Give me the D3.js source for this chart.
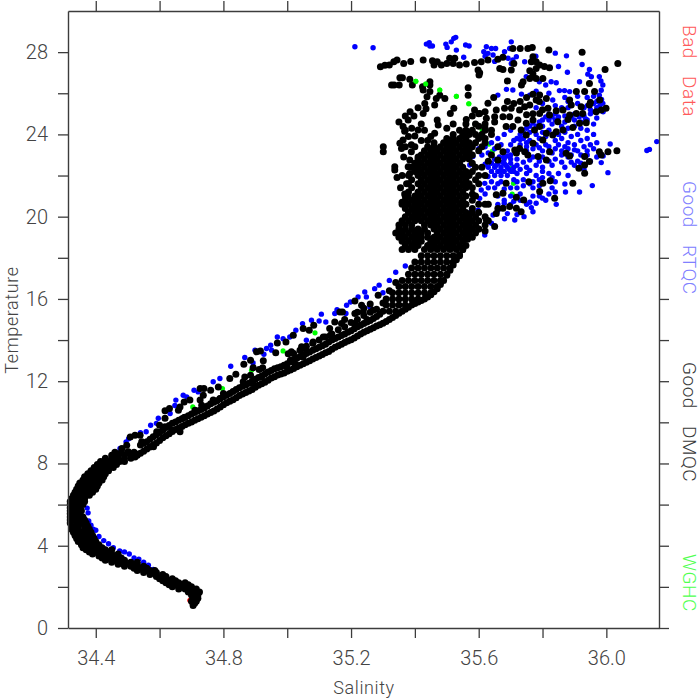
<!DOCTYPE html>
<html><head><meta charset="utf-8">
<script src="https://cdn.jsdelivr.net/npm/d3@7"></script>
<style>html,body{margin:0;padding:0;background:#fff}svg{display:block}
text{font-family:Roboto,"Liberation Sans",sans-serif;font-weight:300}</style></head>
<body><svg id="c" width="700" height="700"></svg>
<script>
const xMajor=[34.4,34.8,35.2,35.6,36.0];
const xTicks=[34.4,34.6,34.8,35.0,35.2,35.4,35.6,35.8,36.0];
const yMajor=[0,4,8,12,16,20,24,28];
const yTicks=[0,2,4,6,8,10,12,14,16,18,20,22,24,26,28];
const legendLabels=["Bad Data","Good RTQC","Good DMQC","WGHC"];
const legendColors=["#ff5a5a","#8080ff","#3a3a3a","#50ff50"];

const badData=[[34.695,1.35],[34.62,2.3],[34.70,1.25]];
const wghc=[[34.704,10.75],[34.797,11.64],[34.888,12.53],[34.987,13.47],[35.087,14.35],[35.403,26.58],[35.434,26.45],[35.478,26.16],[35.53,25.85],[35.569,25.49],[35.611,24.21],[35.632,23.53],[35.643,23.19],[35.709,21.62],[35.705,21.1],[35.702,22.35]];

const rtqcLower=[[34.373,5.83],[34.376,5.6],[34.378,5.2],[34.385,5.0],[34.392,4.8],[34.40,4.75],[34.41,4.45],[34.425,4.25],[34.44,4.1],[34.455,3.9],[34.475,3.75],[34.49,3.7],[34.505,3.6],[34.52,3.4],[34.535,3.35],[34.55,3.2],[34.565,3.05],[34.58,2.85],
[34.476,8.73],[34.468,8.4],[34.495,9.05],[34.503,9.2],[34.54,9.5],[34.558,9.54],[34.572,9.86],[34.596,10.2],[34.59,9.95],[34.633,10.43],[34.651,11.08],[34.648,10.82],[34.674,11.32],[34.685,11.24],[34.708,11.56],[34.721,11.48],[34.768,11.97],[34.789,12.13],[34.823,12.73],[34.867,13.15],[34.893,12.89],[34.899,13.51],[34.927,13.31],[34.935,13.59],[34.951,13.51],[34.969,14.15],[34.948,13.75],[34.987,14.07],[35.008,14.15],[35.027,14.48],[35.048,14.8],[35.06,13.99],[35.076,14.96],[35.1,14.93],[35.107,15.26],[35.121,14.88],[35.149,15.29],[35.156,15.48],[35.184,15.29],[35.186,15.69],[35.198,15.85],[35.222,16.1],[35.243,16.34],[35.248,16.1],[35.274,16.5],[35.259,15.61],[35.288,16.67],[35.30,16.3],[35.32,16.9],[35.34,17.3],[35.37,17.6]];
const rtqcTop=[[35.212,28.26],[35.269,28.21],[35.436,28.39],[35.447,28.3],[35.455,28.3],[35.445,28.46],[35.497,28.39],[35.501,28.23],[35.514,28.5],[35.528,28.72],[35.522,28.67],[35.53,28.1],[35.559,28.35],[35.57,28.3],[35.553,27.75],[35.624,28.26],[35.64,28.18],[35.653,28.18],[35.616,28.02],[35.629,27.94],[35.645,27.86],[35.65,27.55],[35.62,27.8],[35.702,28.5],[35.697,28.18],[35.681,28.02],[35.676,27.78],[35.692,27.7],[35.707,27.62],[35.718,27.78],[35.702,27.45],[35.744,27.53],[35.779,27.8],[35.84,27.95],[35.875,27.82],[35.85,27.3],[35.878,27.02],[35.924,27.4],[35.947,27.16],[35.942,26.93],[35.953,26.8],[35.916,26.56],[35.978,26.81],[35.983,26.6],[35.989,26.4],[35.984,26.15],[35.978,25.9],[35.989,25.51],[35.843,26.51],[35.827,26.56],[35.81,26.4],[35.853,26.13],[35.869,26.13],[35.885,26.08],[35.832,25.67],[35.749,26.81],[35.79,26.56],[35.687,26.19],[35.707,26.16],[35.66,25.91],[35.734,25.96],[35.76,25.91],[35.78,26.1],[35.82,26.0],[35.87,25.8],[35.91,25.85],[35.94,25.8]];
const rtqcBlue=[[35.66,22.8],[35.68,22.8],[35.70,22.8],[35.64,22.6],[35.66,22.6],[35.68,22.6],[35.70,22.6],[35.63,22.4],[35.65,22.4],[35.67,22.4],[35.69,22.4],[35.71,22.4],[35.64,22.2],[35.66,22.2],[35.68,22.2],[35.70,22.2],[35.65,22.0],[35.67,22.0],[35.69,22.0],
[35.95,25.6],[35.96,25.5],[35.97,25.6],[35.98,25.4],[35.86,25.3],[35.88,25.3],[35.93,25.3],[35.95,25.2],[35.97,25.3],[35.99,25.1],[35.82,25.0],[35.84,25.0],[35.90,25.0],[35.93,24.9],[35.95,25.0],[35.97,24.8],[35.80,24.7],[35.82,24.7],[35.84,24.7],[35.87,24.6],[35.90,24.7],[35.92,24.6],[35.94,24.7],[35.96,24.5],[35.76,24.4],[35.78,24.4],[35.80,24.4],[35.83,24.5],[35.86,24.4],[35.88,24.3],[35.90,24.4],[35.92,24.3],[35.94,24.2],[35.74,24.1],[35.76,24.1],[35.78,24.0],[35.80,24.1],[35.82,24.2],[35.85,24.0],[35.87,24.1],[35.89,23.9],[35.91,24.0],[35.72,23.8],[35.74,23.8],[35.76,23.7],[35.79,23.8],[35.81,23.9],[35.84,23.7],[35.86,23.8],[35.88,23.6],[35.92,23.7],[35.94,23.8],[35.70,23.5],[35.73,23.5],[35.75,23.4],[35.78,23.5],[35.82,23.4],[35.85,23.5],[35.87,23.4],[35.90,23.5],[35.93,23.4],[35.69,23.2],[35.72,23.1],[35.75,23.2],[35.80,23.2],[35.83,23.1],[35.86,23.2],[35.89,23.0],[35.91,23.2],[35.96,23.3],[35.68,22.9],[35.72,22.8],[35.77,22.9],[35.80,22.9],[35.84,22.8],[35.88,22.9],[35.91,22.7],[35.94,23.0],[35.97,22.9],
[35.72,22.5],[35.75,22.4],[35.78,22.5],[35.80,22.4],[35.83,22.5],[35.87,22.4],[35.90,22.5],[35.93,22.3],[35.72,22.1],[35.75,22.1],[35.78,22.0],[35.80,22.2],[35.82,22.1],[35.85,22.1],[35.88,22.0],[35.71,21.8],[35.74,21.8],[35.77,21.7],[35.80,21.9],[35.83,21.9],[35.72,21.4],[35.74,21.5],[35.77,21.4],[35.79,21.5],[35.83,21.4],[35.87,21.59],[35.872,21.2],[35.916,21.2],[35.956,21.51],[35.70,21.0],[35.73,21.1],[35.77,21.0],[35.82,21.1],[35.84,21.2],[35.70,20.6],[35.76,20.7],[35.80,20.9],[35.843,20.6],[35.765,20.44],[35.77,20.24],[35.742,20.0],[35.713,19.84],[35.681,19.9],[35.598,20.32],[35.577,20.28],[35.603,20.89],[35.608,21.3],[35.619,21.62],[35.629,21.95],[35.645,20.08],[35.64,19.68],[35.619,19.11],[35.582,22.92],[35.572,22.51],[35.61,23.0],[35.63,23.1],[35.65,23.3],[35.67,23.5],[35.66,20.6],[35.68,20.8],[35.66,21.0],[35.65,21.4],[35.67,21.7],
[36.135,23.27],[36.127,23.22],[36.158,23.65],[36.012,23.53],[36.005,22.14],[35.984,22.63],[35.99,22.95],[35.95,23.5],[35.97,23.6],[35.96,24.0]];
const rtqcFill=[[35.78,25.3],[35.80,25.5],[35.84,25.4],[35.88,25.6],[35.91,25.5],[35.94,25.4],[35.96,25.85],[35.975,25.3],[35.985,25.7],[35.955,25.1],[35.935,24.75],[35.915,24.85],[35.89,24.85],[35.87,24.9],[35.85,24.85],[35.83,24.85],[35.81,24.85],[35.79,24.6],[35.77,24.55],[35.75,24.3],[35.73,24.0],[35.71,23.7],[35.73,23.75],[35.75,23.6],[35.77,23.3],[35.79,23.35],[35.81,23.5],[35.84,23.3],[35.86,23.0],[35.88,23.3],[35.90,23.25],[35.92,23.0],[35.94,23.2],[35.95,22.7],[35.79,22.7],[35.82,22.7],[35.86,22.65],[35.89,22.65],[35.92,22.6],[35.74,22.65],[35.76,22.75],[35.70,23.0],[35.665,22.9],[35.69,22.95],[35.62,22.55],[35.65,22.8],[35.67,22.25],[35.655,22.5],[35.685,22.5],[35.695,22.3],[35.675,22.65],[35.71,22.2],[35.73,22.3],[35.76,22.25],[35.84,21.7],[35.79,21.8],[35.76,21.6],[35.72,21.7],[35.70,21.4],[35.68,21.35],[35.66,21.6],[35.64,21.7],[35.63,21.4],[35.62,21.1],[35.66,20.3],[35.69,20.15],[35.72,20.1],[35.75,20.6],[35.78,20.65],[35.79,21.0],[35.81,20.8],[35.73,20.8],[35.71,20.75],[35.68,20.65],[35.60,23.3],[35.62,23.4],[35.64,23.6],[35.66,23.8],[35.68,24.0],[35.70,24.2]];

const dmqcScatterLow=[[34.508,9.29],[34.523,9.37],[34.539,9.37],[34.544,9.05],[34.497,8.89],[34.502,8.57],[34.523,8.32],[34.461,8.48],[34.482,8.73],[34.581,8.81],[34.617,10.56],[34.631,10.67],[34.659,10.59],[34.664,10.75],[34.677,10.99],[34.695,11.08],[34.617,10.2],[34.6,9.86],[34.617,9.78],[34.591,9.54],[34.638,9.62],[34.664,9.54],[34.677,10.23],[34.727,11.64],[34.739,11.64],[34.737,11.32],[34.727,11.08],[34.711,10.59],[34.732,10.83],[34.76,11.56],[34.768,11.08],[34.784,11.72],[34.8,11.4],[34.789,11.16],[34.82,12.13],[34.839,12.34],[34.862,11.97],[34.867,12.21],[34.885,12.29],[34.893,11.89],[34.864,12.83],[34.885,13.02],[34.893,12.66],[34.912,12.57],[34.925,12.99],[34.923,12.66],[34.92,12.21],[34.904,13.43],[34.916,13.47],[34.964,13.38],[34.969,13.86],[34.996,13.91],[35.003,13.34],[35.013,13.43],[34.998,12.73],[35.01,13.02],[35.024,12.86],[35.045,13.67],[35.055,13.59],[35.05,13.18],[35.019,14.24],[35.05,14.56],[35.069,14.48],[35.083,14.72],[35.081,13.91],[35.113,14.15],[35.133,14.56],[35.135,14.24],[35.149,14.88],[35.165,15.37],[35.173,15.37],[35.17,14.8],[35.212,15.9],[35.212,15.29],[35.212,14.8],[35.233,15.69],[35.238,15.37],[35.269,15.45],[35.285,16.18],[35.30,15.8],[35.32,16.4],[35.34,16.8],[35.25,15.0]];

const dmqcScatterHigh=[[35.292,27.29],[35.306,27.36],[35.32,27.38],[35.334,27.53],[35.344,27.62],[35.365,27.45],[35.387,27.55],[35.426,27.62],[35.455,27.58],[35.47,27.53],[35.46,27.37],[35.483,27.37],[35.50,27.45],[35.509,27.7],[35.525,27.7],[35.52,27.45],[35.54,27.37],[35.561,27.42],[35.587,27.49],[35.608,27.53],[35.629,27.62],[35.66,27.65],[35.676,27.75],[35.598,27.13],[35.601,26.89],[35.603,27.0],[35.707,28.18],[35.73,28.18],[35.754,28.18],[35.768,28.23],[35.77,27.78],[35.765,27.53],[35.78,27.53],[35.791,27.37],[35.806,27.3],[35.822,27.24],[35.78,27.2],[35.76,27.1],[35.77,26.94],[35.82,28.1],[35.924,27.99],[36.036,27.45],[35.996,27.16],[35.666,27.21],[35.676,27.16],[35.702,27.13],[35.71,27.45],[35.69,26.6],[35.739,26.56],[35.734,26.4],[35.76,26.72],[35.78,26.72],[35.801,26.72],
[35.327,26.4],[35.335,26.4],[35.351,26.4],[35.353,26.76],[35.361,26.76],[35.384,26.68],[35.392,26.4],[35.424,26.32],[35.447,26.56],[35.447,26.4],[35.426,26.16],[35.438,25.83],[35.467,25.75],[35.494,25.75],[35.478,25.9],[35.447,26.08],[35.431,25.5],[35.426,25.02],[35.462,25.43],[35.435,25.25],[35.567,26.27],[35.567,25.9],[35.522,25.27],[35.511,25.02],[35.397,24.89],[35.42,24.5],[35.41,24.21],[35.4,23.92],[35.379,24.7],[35.363,24.38],[35.368,24.15],[35.363,23.73],[35.353,23.57],[35.358,23.32],[35.301,23.4],[35.301,23.16],[35.473,24.46],[35.462,24.05],[35.561,24.73],[35.337,22.43],[35.337,22.27],[35.344,21.9],[35.389,23.5],[35.389,23.16],[35.384,22.76],[35.379,22.43],[35.384,22.1],[35.374,21.6],[35.368,21.1],[35.379,20.97],[35.47,24.7],[35.45,23.9],[35.44,23.7],
[35.713,23.24],[35.728,23.32],[35.744,23.16],[35.754,23],[35.718,23.1],[35.66,22.76],[35.676,23.16],[35.786,22.92],[35.812,22.76],[35.822,23.16],[35.874,23.08],[35.885,22.95],[35.932,22.92],[35.947,22.68],[35.932,22.51],[35.932,22.11],[35.914,22.35],[35.895,21.62],[35.978,23.16],[35.984,23],[36.005,23.16],[36.033,23.21],[35.757,21.7],[35.801,21.62],[35.824,21.75],[35.791,21.22],[35.838,20.89],[35.741,20.81],[35.718,20.94],[35.686,21.62],[35.676,21.14],[35.655,21.06],[35.733,20.24],[35.718,20.41],[35.697,20.49],[35.676,20.41],[35.655,20.16],[35.65,19.52],[35.624,19.84],
[35.791,24.38],[35.812,24.05],[35.832,23.97],[35.843,24.13],[35.864,24.21],[35.895,24.34],[35.916,24.54],[35.937,24.57],[35.848,24.62],[35.88,24.73],[35.885,24.94],[35.906,25.02],[35.926,25.02],[35.843,25.15],[35.864,25.19],[35.89,25.43],[35.921,25.35],[35.947,25.43],[35.968,25.1],[35.984,25.19],[35.999,25.27],[35.906,26.08],[35.932,26.08],[35.963,26.08],[35.947,26.48],[35.885,25.67],[35.979,25.67],[35.95,25.55],
[35.791,25.92],[35.812,25.75],[35.78,25.67],[35.76,25.43],[35.744,25.35],[35.728,25.19],[35.702,25.27],[35.681,25.27],[35.655,25.19],[35.629,25.51],[35.647,25.8],[35.587,25.19],[35.603,25.02],[35.624,24.78],[35.65,24.86],[35.676,24.86],[35.697,24.86],[35.723,24.7],[35.749,24.54],[35.77,24.7],[35.791,25.02],[35.817,25.27],[35.822,24.94],[35.77,23.57],[35.801,23.73],[35.775,24.21],[35.749,23.97],[35.733,24.21],[35.707,24.38],[35.686,24.38],[35.60,25.0],[35.58,24.9],[35.62,25.1],[35.65,24.6],[35.77,25.0],[35.75,24.95],[35.80,25.2],[35.73,25.6],[35.71,25.5],[35.69,25.6],[35.75,25.8],[35.77,25.95],[35.79,25.6],
[35.35,24.6],[35.37,24.9],[35.39,24.3],[35.38,23.9],[35.37,23.4],[35.40,23.4],[35.41,22.9],[35.40,22.3],[35.365,22.9],[35.36,22.0],[35.355,21.4],[35.36,20.7],[35.385,25.1],[35.41,25.3],[35.37,24.2],[35.42,23.7],[35.43,24.2],[35.50,24.3],[35.52,24.5],[35.60,24.4],[35.62,24.3],[35.64,24.0],[35.66,23.4],[35.64,23.0],[35.63,22.7],[35.61,22.4],[35.62,22.0],[35.60,21.6],[35.58,21.1],[35.62,20.6],[35.60,19.4],[35.62,19.3]];

const dmqcLowerRows=[[1.1,[34.705]],[1.3,[34.70,34.715]],[1.6,[34.70,34.72]],[1.9,[34.66,34.68,34.70,34.715]],[2.1,[34.63,34.65,34.67,34.69]],[2.3,[34.61,34.63,34.65]],[2.5,[34.59,34.61,34.62]],[2.7,[34.55,34.57,34.59]],[2.9,[34.52,34.54,34.56]],[3.1,[34.47,34.49,34.51,34.53]],[3.3,[34.43,34.45,34.47,34.49]],[3.5,[34.41,34.43,34.45,34.47]],[3.7,[34.38,34.40,34.42,34.44]],[3.9,[34.36,34.38,34.40,34.42]],[4.2,[34.345,34.365,34.385,34.40]],[4.5,[34.335,34.355,34.375,34.39]],[4.8,[34.325,34.345,34.365,34.38]],[5.1,[34.32,34.34,34.36,34.37]],[5.4,[34.32,34.34,34.36]],[5.7,[34.32,34.34,34.355]],[6.0,[34.32,34.34,34.36]],[6.3,[34.325,34.345,34.365]],[6.6,[34.335,34.355,34.375,34.39]],[6.9,[34.345,34.365,34.385,34.405]],[7.2,[34.36,34.38,34.40,34.42]],[7.5,[34.375,34.395,34.415,34.43]],[7.8,[34.395,34.415,34.435,34.455]],[8.1,[34.415,34.435,34.455,34.475,34.49]],[8.4,[34.45,34.47,34.49,34.51,34.53]]];
const dmqcLowerFill=[[1.2,[34.71]],[1.45,[34.705,34.72]],[1.75,[34.69,34.71,34.725]],[2.0,[34.64,34.66,34.68,34.70]],[2.2,[34.62,34.64,34.66,34.68]],[2.4,[34.60,34.62,34.64]],[2.6,[34.57,34.59,34.61]],[2.8,[34.53,34.55,34.57,34.585]],[3.0,[34.49,34.51,34.53,34.55]],[3.2,[34.45,34.47,34.49,34.51,34.53]],[3.4,[34.42,34.44,34.46,34.48]],[3.6,[34.39,34.41,34.43,34.45,34.47]],[3.8,[34.37,34.39,34.41,34.43,34.45]],[4.05,[34.355,34.375,34.395,34.41]],[4.35,[34.34,34.36,34.38,34.395]],[4.65,[34.33,34.35,34.37,34.385]],[4.95,[34.325,34.345,34.365,34.375]],[5.25,[34.32,34.335,34.35,34.365]],[5.55,[34.32,34.335,34.35]],[5.85,[34.32,34.335,34.35]],[6.15,[34.32,34.335,34.35,34.365]],[6.45,[34.33,34.35,34.37,34.38]],[6.75,[34.34,34.36,34.38,34.40]],[7.05,[34.35,34.37,34.39,34.41]],[7.35,[34.365,34.385,34.405,34.425]],[7.65,[34.385,34.405,34.425,34.44]],[7.95,[34.405,34.425,34.445,34.465]],[8.25,[34.43,34.45,34.47,34.49,34.51]],[8.55,[34.46,34.48,34.50,34.52]]];

const dmqcSpineA=[[34.53,8.45],[34.55,8.6],[34.57,8.8],[34.59,9.0],[34.61,9.25],[34.63,9.45],[34.65,9.65],[34.67,9.8],[34.69,9.95],[34.71,10.1],[34.73,10.25],[34.75,10.4],[34.77,10.55],[34.79,10.75],[34.81,10.95],[34.83,11.1],[34.85,11.3],[34.87,11.45],[34.89,11.6],[34.91,11.8],[34.93,11.95],[34.95,12.15],[34.97,12.3],[34.99,12.4],[35.01,12.55],[35.03,12.7],[35.05,12.85],[35.07,13],[35.09,13.15],[35.11,13.3],[35.13,13.45],[35.15,13.65],[35.17,13.8],[35.19,13.95],[35.21,14.1],[35.23,14.3],[35.25,14.45],[35.27,14.6],[35.29,14.75],[35.31,14.9],[35.33,15.1],[35.35,15.3],[35.37,15.5],[35.39,15.7],[35.41,15.85],[35.43,16],[35.45,16.2],[35.47,16.5],[35.49,16.9],[35.51,17.4],[35.53,17.9],[35.55,18.4],[35.565,18.9]];
const dmqcSpineA2=[[34.54,8.5],[34.56,8.7],[34.58,8.9],[34.60,9.12],[34.62,9.35],[34.64,9.55],[34.66,9.72],[34.68,9.88],[34.70,10.02],[34.72,10.18],[34.74,10.32],[34.76,10.48],[34.78,10.65],[34.80,10.85],[34.82,11.02],[34.84,11.2],[34.86,11.38],[34.88,11.52],[34.90,11.7],[34.92,11.88],[34.94,12.05],[34.96,12.22],[34.98,12.35],[35.00,12.48],[35.02,12.62],[35.04,12.78],[35.06,12.92],[35.08,13.08],[35.10,13.22],[35.12,13.38],[35.14,13.55],[35.16,13.72],[35.18,13.88],[35.20,14.02],[35.22,14.2],[35.24,14.38],[35.26,14.52],[35.28,14.68],[35.30,14.82],[35.32,15.0],[35.34,15.2],[35.36,15.4],[35.38,15.6],[35.40,15.78],[35.42,15.92],[35.44,16.1],[35.46,16.35],[35.48,16.7],[35.50,17.15],[35.52,17.65],[35.54,18.15]];
const dmqcSpineB=[[34.54,8.9],[34.56,9.05],[34.58,9.3],[34.60,9.5],[34.62,9.75],[34.64,9.95],[34.66,10.1],[34.68,10.25],[34.70,10.4],[34.72,10.55],[34.74,10.7],[34.76,10.9],[34.78,11.05],[34.80,11.25],[34.82,11.4],[34.84,11.6],[34.86,11.75],[34.88,11.9],[34.90,12.1],[34.92,12.25],[34.94,12.45],[34.96,12.6],[34.98,12.7],[35.00,12.85],[35.02,13.05],[35.04,13.2],[35.06,13.35],[35.08,13.5],[35.10,13.65],[35.12,13.8],[35.14,14.0],[35.16,14.15],[35.18,14.3],[35.20,14.45],[35.22,14.65],[35.24,14.8],[35.26,14.95],[35.28,15.15]];
const dmqcSpineB2=[[34.55,8.98],[34.57,9.18],[34.59,9.4],[34.61,9.62],[34.63,9.85],[34.65,10.02],[34.67,10.18],[34.69,10.32],[34.71,10.48],[34.73,10.62],[34.75,10.8],[34.77,10.98],[34.79,11.15],[34.81,11.32],[34.83,11.5],[34.85,11.68],[34.87,11.82],[34.89,12.0],[34.91,12.18],[34.93,12.35],[34.95,12.52],[34.97,12.65],[34.99,12.78],[35.01,12.95],[35.03,13.12],[35.05,13.28],[35.07,13.42],[35.09,13.58],[35.11,13.72],[35.13,13.9],[35.15,14.08],[35.17,14.22],[35.19,14.38],[35.21,14.55],[35.23,14.72],[35.25,14.88],[35.27,15.05],[35.29,15.25]];
const dmqcSpineC=[[35.02,13.35],[35.04,13.5],[35.06,13.7],[35.08,13.85],[35.10,14.0],[35.12,14.15],[35.14,14.3],[35.16,14.5],[35.18,14.65],[35.20,14.85],[35.22,15.0],[35.24,15.2],[35.26,15.35],[35.18,15.0],[35.22,15.35],[35.24,15.55],[35.26,15.75],[35.28,15.5]];

const dmqcWedgeRows=[[15.4,[35.30,35.32,35.34]],[15.7,[35.31,35.33,35.35,35.37]],[16.0,[35.31,35.33,35.35,35.37,35.39,35.41]],[16.3,[35.33,35.35,35.37,35.39,35.41,35.43,35.45]],[16.6,[35.35,35.37,35.39,35.41,35.43,35.45,35.47]],[16.9,[35.36,35.38,35.40,35.42,35.44,35.46,35.48]],[17.2,[35.38,35.40,35.42,35.44,35.46,35.48,35.50]],[17.5,[35.39,35.41,35.43,35.45,35.47,35.49,35.51]],[17.8,[35.40,35.42,35.44,35.46,35.48,35.50,35.52]],[18.1,[35.42,35.44,35.46,35.48,35.50,35.52,35.54]]];

const dmqcMassRows=[
[18.4,[35.36,35.38,35.40,35.43,35.45,35.47,35.49,35.51,35.53,35.55]],
[18.6,[35.37,35.39,35.41,35.44,35.46,35.48,35.50,35.52,35.54,35.56]],
[18.8,[35.36,35.38,35.40,35.45,35.47,35.49,35.51,35.53,35.55]],
[19.0,[35.35,35.37,35.39,35.41,35.44,35.46,35.48,35.50,35.52,35.54,35.56,35.58]],
[19.2,[35.34,35.36,35.38,35.40,35.42,35.47,35.49,35.51,35.53,35.55,35.57,35.59]],
[19.4,[35.35,35.37,35.39,35.41,35.46,35.48,35.50,35.52,35.54,35.56,35.58,35.60]],
[19.6,[35.35,35.37,35.39,35.43,35.45,35.47,35.51,35.53,35.55,35.57,35.59,35.62]],
[19.8,[35.36,35.38,35.40,35.42,35.44,35.46,35.48,35.50,35.52,35.54,35.58,35.60,35.63]],
[20.0,[35.37,35.39,35.43,35.45,35.47,35.49,35.51,35.53,35.55,35.57,35.59,35.62]],
[20.2,[35.38,35.40,35.42,35.44,35.46,35.48,35.50,35.54,35.56,35.60]],
[20.4,[35.37,35.39,35.41,35.43,35.47,35.49,35.51,35.53,35.55,35.58,35.66]],
[20.6,[35.36,35.38,35.40,35.42,35.44,35.46,35.48,35.52,35.54,35.56,35.60,35.63]],
[20.8,[35.37,35.39,35.41,35.45,35.47,35.49,35.51,35.53,35.55,35.58]],
[21.0,[35.37,35.40,35.42,35.44,35.46,35.48,35.50,35.52,35.56,35.59]],
[21.2,[35.38,35.41,35.43,35.47,35.49,35.51,35.53,35.55]],
[21.4,[35.39,35.42,35.44,35.46,35.48,35.50,35.54,35.56,35.58]],
[21.6,[35.38,35.41,35.43,35.45,35.47,35.49,35.51,35.53,35.55,35.57]],
[21.8,[35.39,35.42,35.44,35.46,35.50,35.52,35.54,35.56,35.59]],
[22.0,[35.38,35.41,35.43,35.45,35.47,35.49,35.51,35.53,35.57,35.60]],
[22.2,[35.40,35.42,35.44,35.46,35.48,35.52,35.54,35.56,35.58]],
[22.4,[35.39,35.41,35.43,35.47,35.49,35.51,35.53,35.55,35.59]],
[22.6,[35.40,35.42,35.44,35.46,35.48,35.50,35.52,35.54,35.58]],
[22.8,[35.41,35.43,35.45,35.47,35.49,35.51,35.55,35.57]],
[23.0,[35.42,35.44,35.46,35.48,35.50,35.52,35.54,35.56,35.58]],
[23.2,[35.43,35.45,35.47,35.49,35.53,35.55,35.57,35.60]],
[23.4,[35.44,35.46,35.48,35.50,35.52,35.54,35.56,35.58,35.61]],
[23.6,[35.46,35.49,35.51,35.53,35.55,35.57,35.59,35.62]],
[23.8,[35.50,35.52,35.54,35.56,35.60,35.62]],
[24.0,[35.52,35.55,35.57,35.59,35.61]],
[24.2,[35.54,35.56,35.58,35.62,35.64]],
[24.5,[35.56,35.59,35.62]]];
const dmqcMassFill=[[35.42,18.8],[35.42,19.0],[35.44,19.2],[35.43,19.4],[35.49,19.6],[35.56,19.8],[35.41,20.0],[35.52,20.2],[35.58,20.2],[35.45,20.4],[35.50,20.6],[35.43,20.8],[35.54,21.0],[35.45,21.2],[35.52,21.4],[35.48,21.8],[35.55,22.0],[35.50,22.2],[35.45,22.4],[35.53,22.8],[35.51,23.2]];

const flat=rows=>rows.flatMap(([t,ss])=>ss.map(s=>[s,t]));
const W=700,H=700,L=68,R=659,T=11,B=628;
const x=d3.scaleLinear().domain([34.313,36.165]).range([L,R]);
const y=d3.scaleLinear().domain([0,30]).range([B,T]);
const svg=d3.select("#c");
const ink="#3c3c3c";

function dots(data,r,color){
  svg.append("g").selectAll("circle").data(data).join("circle")
    .attr("cx",d=>x(d[0])).attr("cy",d=>y(d[1])).attr("r",r).attr("fill",color);
}
dots(badData,2.6,"#ff0000");
dots(wghc,2.6,"#00ff00");
dots(rtqcLower.concat(rtqcTop,rtqcBlue,rtqcFill),2.7,"#0000ff");
dots(flat(dmqcLowerRows).concat(flat(dmqcLowerFill),dmqcSpineA,dmqcSpineA2,dmqcSpineB,dmqcSpineB2,dmqcSpineC,flat(dmqcWedgeRows),flat(dmqcMassRows),dmqcMassFill,dmqcScatterLow,dmqcScatterHigh),3.5,"#000000");
dots(wghc.slice(5,10),2.5,"#00ff00");

const fx=d=>xMajor.includes(d)?d.toFixed(1):"";
const fy=d=>yMajor.includes(d)?String(d):"";
function styleAxis(g){
  g.selectAll("path").attr("stroke",ink).attr("stroke-width",1.4);
  g.selectAll("line").attr("stroke",ink).attr("stroke-width",1.3);
  g.selectAll("text").attr("fill","#444").style("font-size","20px").style("font-family","Roboto,'Liberation Sans',sans-serif").style("font-weight","300");
}
svg.append("g").attr("transform",`translate(0,${B})`).call(d3.axisBottom(x).tickValues(xTicks).tickSize(10).tickSizeOuter(0).tickFormat(fx).tickPadding(13)).call(styleAxis);
svg.append("g").attr("transform",`translate(0,${T})`).call(d3.axisTop(x).tickValues(xTicks).tickSize(10).tickSizeOuter(0).tickFormat("")).call(styleAxis);
svg.append("g").attr("transform",`translate(${L},0)`).call(d3.axisLeft(y).tickValues(yTicks).tickSize(10).tickSizeOuter(0).tickFormat(fy).tickPadding(10)).call(styleAxis);
svg.append("g").attr("transform",`translate(${R},0)`).call(d3.axisRight(y).tickValues(yTicks).tickSize(10).tickSizeOuter(0).tickFormat("")).call(styleAxis);

svg.append("text").attr("x",364).attr("y",694).attr("text-anchor","middle").attr("fill","#444").style("font-size","18px").style("letter-spacing","0.6px").text("Salinity");
svg.append("text").attr("transform","translate(17.5,320) rotate(-90)").attr("text-anchor","middle").attr("fill","#444").style("font-size","18px").style("letter-spacing","0.6px").text("Temperature");

const legendY=[25,181,362,554];
legendLabels.forEach((t,i)=>{
  svg.append("text").attr("transform",`translate(682.5,${legendY[i]}) rotate(90)`).attr("fill",legendColors[i])
    .style("font-size","19px").style("letter-spacing","0.5px").style("word-spacing","12px").text(t);
});
</script></body></html>
